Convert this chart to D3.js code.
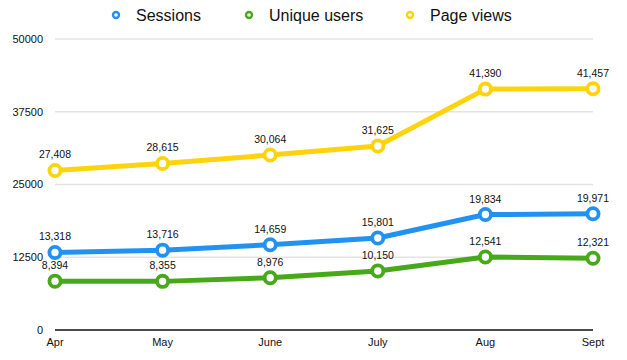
<!DOCTYPE html>
<html><head><meta charset="utf-8">
<script src="https://cdn.jsdelivr.net/npm/d3@7"></script>
<style>html,body{margin:0;padding:0;background:#fff;} svg{display:block;font-family:"Liberation Sans",Arial,Helvetica,sans-serif;}</style>
</head><body><svg id="c" width="627" height="360"></svg>
<script>
const months = ["Apr","May","June","July","Aug","Sept"];
const sessions = [13318,13716,14659,15801,19834,19971];
const uniqueUsers = [8394,8355,8976,10150,12541,12321];
const pageViews = [27408,28615,30064,31625,41390,41457];
const yTicks = [0,12500,25000,37500,50000];
const seriesNames = ["Sessions","Unique users","Page views"];
const seriesColors = ["#2192f2","#47a91a","#fdd40b"];

const series = [
  {name: seriesNames[0], values: sessions, color: seriesColors[0]},
  {name: seriesNames[1], values: uniqueUsers, color: seriesColors[1]},
  {name: seriesNames[2], values: pageViews, color: seriesColors[2]}
];

const svg = d3.select("#c");
const x = d3.scalePoint().domain(months).range([55, 593]);
const y = d3.scaleLinear().domain([0, 50000]).range([330, 39]);

// gridlines
svg.append("g").selectAll("line").data(yTicks.filter(d => d > 0)).join("line")
  .attr("x1", 55).attr("x2", 593)
  .attr("y1", d => y(d)).attr("y2", d => y(d))
  .attr("stroke", "#e3e3e3").attr("stroke-width", 1.5);
// baseline
svg.append("line").attr("x1", 55).attr("x2", 593)
  .attr("y1", y(0)).attr("y2", y(0)).attr("stroke", "#111").attr("stroke-width", 1.5);

// y labels
svg.append("g").selectAll("text").data(yTicks).join("text")
  .attr("x", 43).attr("y", d => y(d)).attr("dy", "0.35em")
  .attr("text-anchor", "end").attr("font-size", 11).attr("fill", "#111")
  .text(d => d);

// x labels
svg.append("g").selectAll("text").data(months).join("text")
  .attr("x", d => x(d)).attr("y", 346)
  .attr("text-anchor", "middle").attr("font-size", 11).attr("fill", "#111")
  .text(d => d);

const line = d3.line().x((d, i) => x(months[i])).y(d => y(d));
const fmt = d3.format(",");

series.forEach(s => {
  const g = svg.append("g");
  g.append("path").datum(s.values).attr("d", line)
    .attr("fill", "none").attr("stroke", s.color).attr("stroke-width", 5)
    .attr("stroke-linejoin", "round");
  g.selectAll("circle").data(s.values).join("circle")
    .attr("cx", (d, i) => x(months[i])).attr("cy", d => y(d))
    .attr("r", 5.6).attr("fill", "#fff").attr("stroke", s.color).attr("stroke-width", 3.8);
  g.selectAll("text").data(s.values).join("text")
    .attr("x", (d, i) => x(months[i])).attr("y", d => y(d) - 12)
    .attr("text-anchor", "middle").attr("font-size", 10.5).attr("fill", "#111")
    .text(d => fmt(d));
});

// legend
const legendX = [116, 249, 410];
const lg = svg.append("g");
series.forEach((s, i) => {
  lg.append("circle").attr("cx", legendX[i]).attr("cy", 15).attr("r", 3)
    .attr("fill", "#fff").attr("stroke", s.color).attr("stroke-width", 2.4);
  lg.append("text").attr("x", legendX[i] + 20).attr("y", 15).attr("dy", "0.35em")
    .attr("font-size", 16).attr("fill", "#111").text(s.name);
});
</script></body></html>
